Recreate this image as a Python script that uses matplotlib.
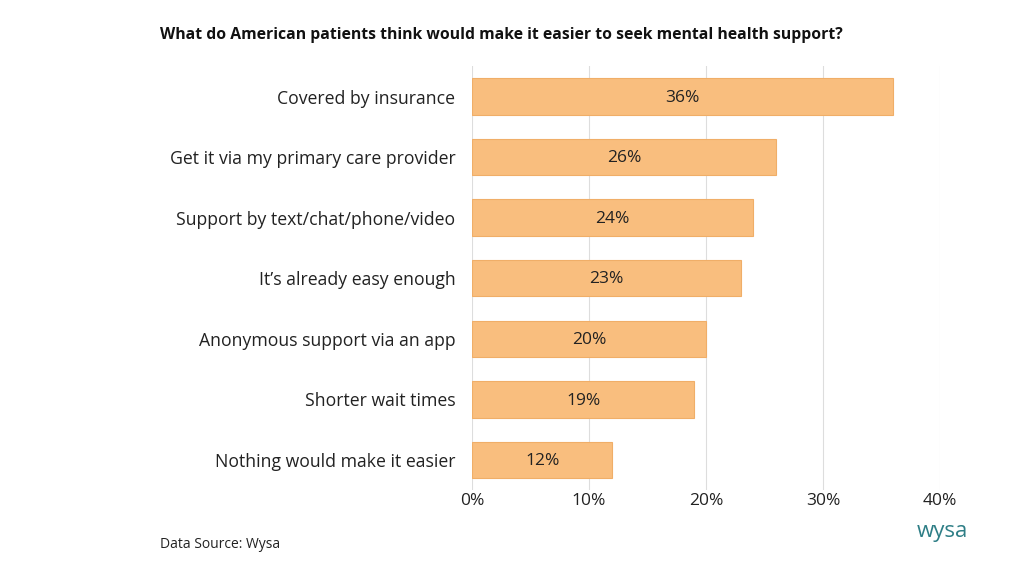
import matplotlib.pyplot as plt

plt.rcParams['font.family'] = ['Open Sans', 'DejaVu Sans']

categories = ['Covered by insurance', 'Get it via my primary care provider',
              'Support by text/chat/phone/video', 'It\u2019s already easy enough',
              'Anonymous support via an app', 'Shorter wait times',
              'Nothing would make it easier']
values = [36, 26, 24, 23, 20, 19, 12]
xticks = [0, 10, 20, 30, 40]

fig = plt.figure(figsize=(10.24, 5.76), dpi=100)
ax = fig.add_axes([0.461, 0.149, 0.457, 0.736])

ypos = list(range(len(categories)))
ax.barh(ypos, values, height=0.6, color='#F9BE7E', edgecolor='#F0AE68', linewidth=0.8, zorder=2)
for y, v in zip(ypos, values):
    ax.text(v / 2, y + 0.02, f'{v}%', ha='center', va='center', fontsize=12.5, color='#222222', zorder=3)

ax.set_ylim(len(categories) - 0.5, -0.5)
ax.set_xlim(0, 40)
ax.set_yticks(ypos)
ax.set_yticklabels(categories, fontsize=12.7, color='#222222')
ax.set_xticks(xticks)
ax.set_xticklabels([f'{t}%' for t in xticks], fontsize=12.5, color='#222222')
ax.tick_params(axis='x', length=0, pad=2)
ax.tick_params(axis='y', length=0, pad=12)
ax.grid(axis='x', color='#DDDDDD', linewidth=0.8, zorder=0)
for s in ax.spines.values():
    s.set_visible(False)

fig.text(160 / 1024, 1 - 35 / 576, 'What do American patients think would make it easier to seek mental health support?',
         fontsize=11.3, fontweight='bold', va='center', color='#111111')
fig.text(160 / 1024, 1 - 544 / 576, 'Data Source: Wysa', fontsize=10, va='center', color='#222222')
fig.text(968 / 1024, 1 - 532 / 576, 'wysa', fontsize=16, ha='right', va='center', color='#2E7E86')

fig.savefig('out.png', dpi=100)
